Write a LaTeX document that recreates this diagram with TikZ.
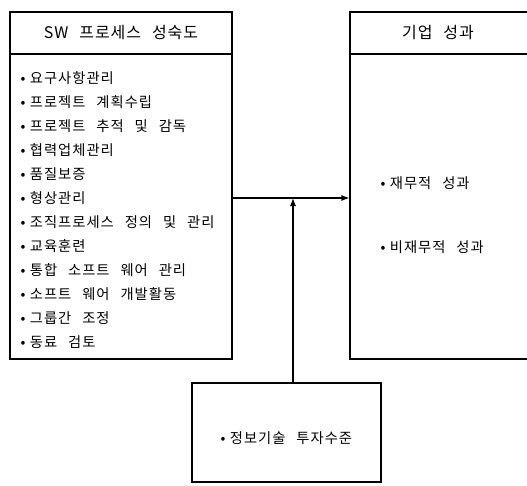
\documentclass[tikz,border=0pt]{standalone}
\usepackage{fontspec}
\usetikzlibrary{arrows.meta}
\newfontfamily\kr[WordSpace=2.6,LetterSpace=7]{Noto Sans CJK KR}
\newfontfamily\krh[WordSpace=2.4,LetterSpace=6]{Noto Sans CJK KR}
\newcommand{\itm}[1]{•\hspace{4.5pt}#1}
\begin{document}
\begin{tikzpicture}[x=1pt,y=-1pt,line width=1.1pt,
  frame/.style={draw=black, rectangle, inner sep=0pt},
  head/.style={font=\krh\fontsize{16}{18}\selectfont},
  item/.style={anchor=west, inner sep=0pt, font=\kr\fontsize{14.3}{16}\selectfont},
  conn/.style={draw=black, line width=1.1pt, -{Latex[length=8pt,width=6pt]}}]
\useasboundingbox (0,0) rectangle (527,485);
\clip (0,0) rectangle (527,485);
% left box
\node[frame, minimum width=222pt, minimum height=42pt] (lhead) at (121,33) {};
\node[head] (lheadtxt) at (121,33) {SW 프로세스 성숙도};
\node[frame, minimum width=222pt, minimum height=305pt] (lbody) at (121,206.5) {};
\draw[line width=1.7pt] (lhead.south west) -- (lhead.south east);
\node[item] (l1) at (20,78) {\itm{요구사항관리}};
\node[item] (l2) at (20,102) {\itm{프로젝트 계획수립}};
\node[item] (l3) at (20,126) {\itm{프로젝트 추적 및 감독}};
\node[item] (l4) at (20,150.5) {\itm{협력업체관리}};
\node[item] (l5) at (20,174.5) {\itm{품질보증}};
\node[item] (l6) at (20,198.5) {\itm{형상관리}};
\node[item] (l7) at (20,222.5) {\itm{조직프로세스 정의 및 관리}};
\node[item] (l8) at (20,246.5) {\itm{교육훈련}};
\node[item] (l9) at (20,270.5) {\itm{통합 소프트 웨어 관리}};
\node[item] (l10) at (20,294.5) {\itm{소프트 웨어 개발활동}};
\node[item] (l11) at (20,318) {\itm{그룹간 조정}};
\node[item] (l12) at (20,342) {\itm{동료 검토}};
% right box
\node[frame, minimum width=185pt, minimum height=42pt] (rhead) at (442.5,33) {};
\node[head] (rheadtxt) at (438,33) {기업 성과};
\node[frame, minimum width=185pt, minimum height=305pt] (rbody) at (442.5,206.5) {};
\draw[line width=1.7pt] (rhead.south west) -- (rhead.south east);
\node[item] (r1) at (380,183) {\itm{재무적 성과}};
\node[item] (r2) at (380,247) {\itm{비재무적 성과}};
% bottom box
\node[frame, minimum width=189pt, minimum height=99pt] (bbox) at (286.5,432.5) {};
\node[item] (b1) at (220,438) {\itm{정보기술 투자수준}};
% connectors
\coordinate (arr) at (0,198);
\coordinate (jn) at (293,198);
\draw[conn] (lbody.east |- arr) -- (rbody.west |- arr);
\draw[conn] (bbox.north -| jn) -- (jn);
\end{tikzpicture}
\end{document}
